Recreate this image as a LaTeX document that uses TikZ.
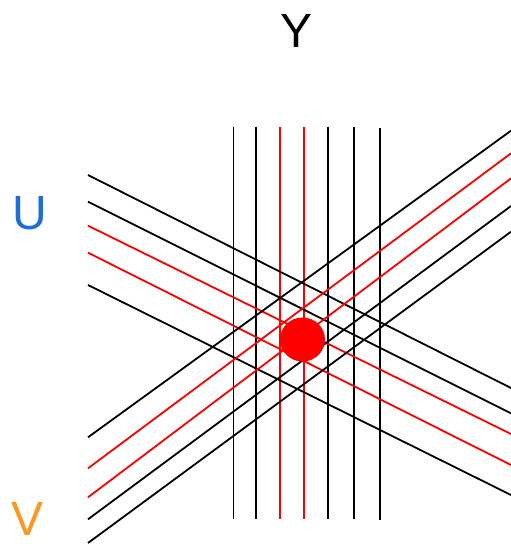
\documentclass[tikz,border=0pt]{standalone}
\usepackage{fontspec}
\setmainfont{Liberation Sans}
\definecolor{ublue}{RGB}{30,110,215}
\definecolor{vorange}{RGB}{255,150,30}
\definecolor{lred}{RGB}{255,0,0}
\begin{document}
\begin{tikzpicture}[x=1pt,y=-1pt,
  ln/.style={line width=1.8pt},
  lbl/.style={inner sep=0pt,font=\fontsize{48}{48}\selectfont}]
\useasboundingbox (0,0) rectangle (511,544);
% vertical lines
\foreach \x/\c in {233.5/black,255.7/black,280/lred,304/lred,327.7/black,354/black}
  \draw[ln,\c] (\x,126.7) -- (\x,519.3);
\draw[ln,black] (380,128) -- (380,520);
% U lines (down-right)
\draw[ln,black] (88,175) -- (511,388);
\draw[ln,black] (88,201.7) -- (511,413.3);
\draw[ln,lred] (88,225.7) -- (511,434);
\draw[ln,lred] (88,252.7) -- (511,465);
\draw[ln,black] (88,285) -- (511,495);
% V lines (up-right)
\draw[ln,black] (88,437.3) -- (511,130.7);
\draw[ln,lred] (88,468.3) -- (511,153.3);
\draw[ln,lred] (88,497.3) -- (511,178.3);
\draw[ln,black] (88,519.3) -- (511,206);
\draw[ln,black] (88,543) -- (511,231.7);
% dot
\fill[lred] (302.5,339.5) ellipse [x radius=22.5, y radius=22];
% labels
\node[lbl] (ylab) at (296.7,31) {Y};
\node[lbl,text=ublue] (ulab) at (30,213.5) {U};
\node[lbl,text=vorange] (vlab) at (28,519) {V};
\end{tikzpicture}
\end{document}
